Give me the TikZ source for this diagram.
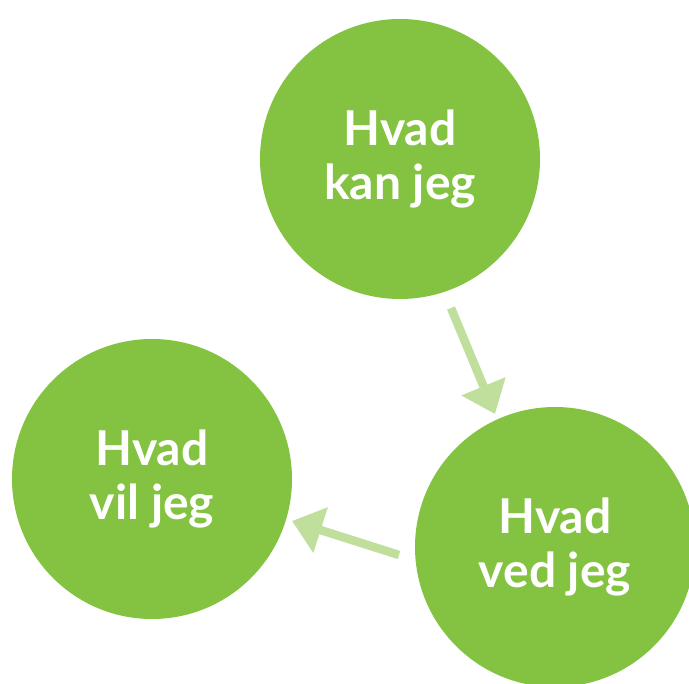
\documentclass[tikz,border=0pt]{standalone}
\usepackage{fontspec}
\setmainfont{Lato}
\usetikzlibrary{arrows.meta}
\definecolor{cgreen}{HTML}{83C341}
\definecolor{agreen}{HTML}{C0DE9C}
\begin{document}
\begin{tikzpicture}[x=1pt,y=-1pt,
  bubble/.style={circle,fill=cgreen,minimum size=280pt,inner sep=0pt,text=white,font=\bfseries\fontsize{48}{54}\selectfont,align=center},
  flow/.style={draw=agreen,line width=8.5pt,-{Triangle[width=46pt,length=30pt]}}]
\useasboundingbox (0,0) rectangle (689,684);
\begin{scope}
\clip (0,0) rectangle (689,684);
\node[bubble] (kan) at (400,159) {Hvad\\kan jeg};
\node[bubble] (vil) at (152,479) {Hvad\\vil jeg};
\node[bubble] (ved) at (555,547) {Hvad\\ved jeg};
\end{scope}
\coordinate (a1s) at (451,308);
\coordinate (a1e) at (495,414);
\coordinate (a2s) at (399,555);
\coordinate (a2e) at (292,521);
\draw[flow] (a1s) -- (a1e);
\draw[flow] (a2s) -- (a2e);
\end{tikzpicture}
\end{document}
